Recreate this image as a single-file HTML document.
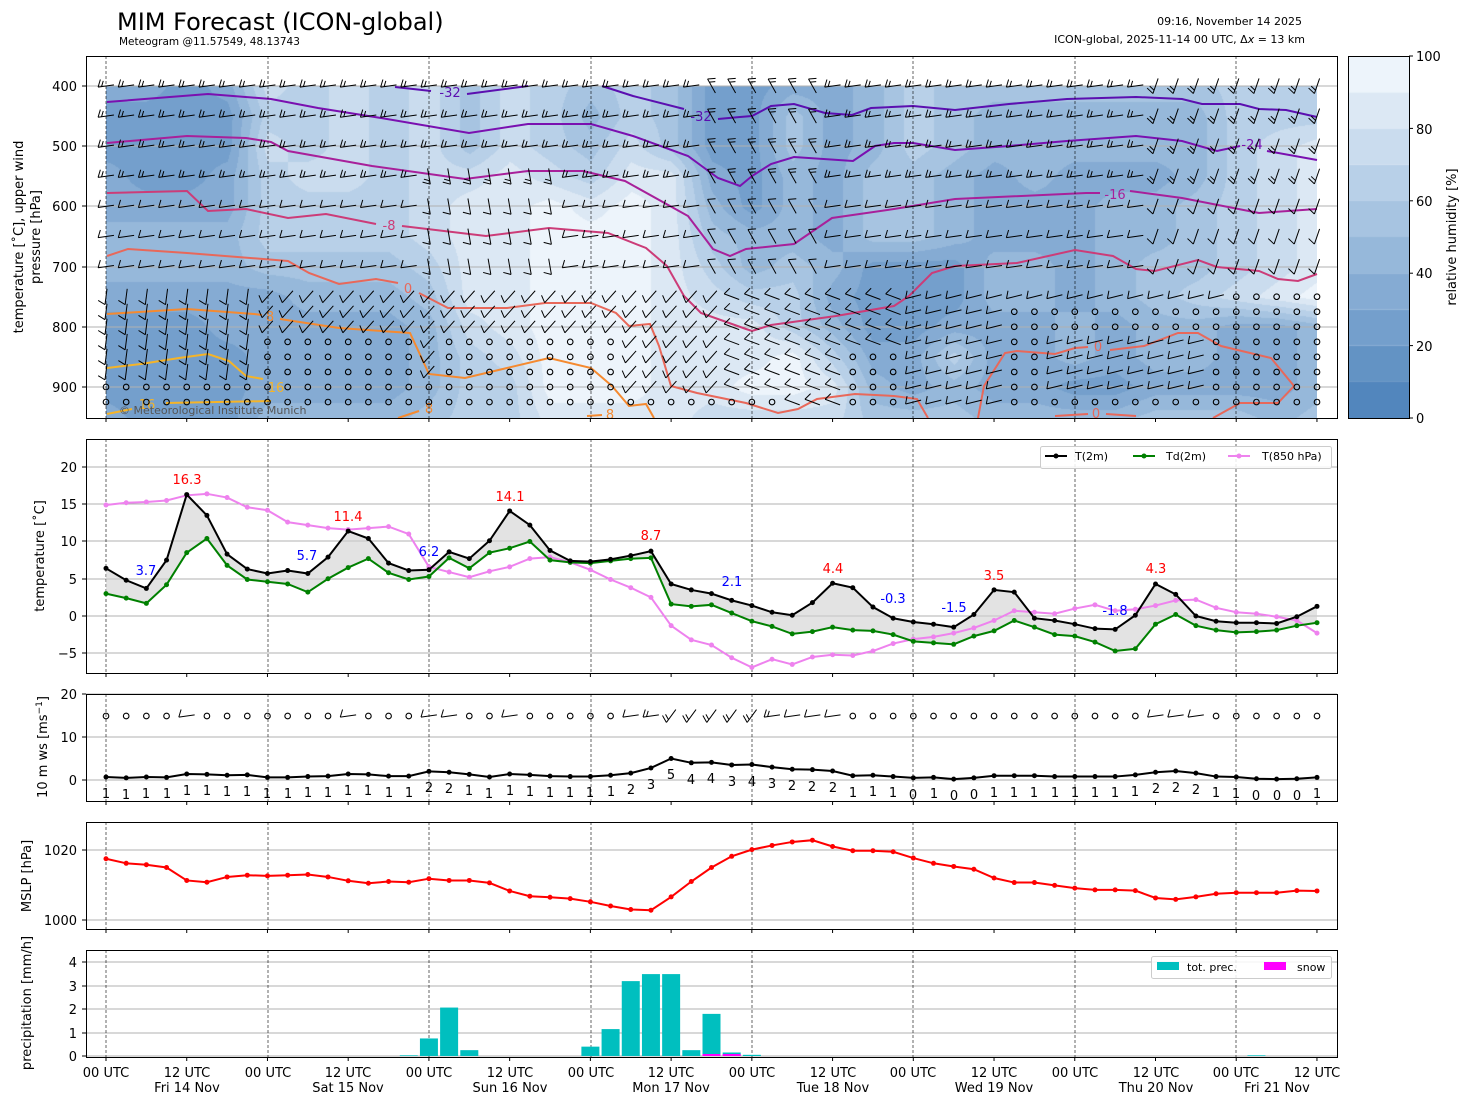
<!DOCTYPE html>
<html><head><meta charset="utf-8"><style>
body{margin:0;background:#fff;width:1469px;height:1105px;position:relative;overflow:hidden;font-family:"Liberation Sans","DejaVu Sans",sans-serif}
#fld{position:absolute;left:106px;top:86px}
#cb{position:absolute;left:1348px;top:56px}
svg{position:absolute;left:0;top:0}
text{font-family:"DejaVu Sans","Liberation Sans",sans-serif}
</style></head><body>
<canvas id="fld" width="1211" height="332"></canvas>
<canvas id="cb" width="61" height="362"></canvas>
<svg width="1469" height="1105" viewBox="0 0 1469 1105">
<g id="pre"></g>
<g fill="none" stroke-width="2">
<polyline stroke="#5b0fb0" points="395,87 431,91"/>
<polyline stroke="#5b0fb0" points="467,94 528,86"/>
<polyline stroke="#5b0fb0" points="602,86 633,96 684,109"/>
<polyline stroke="#5b0fb0" points="718,119 740,117 752,116 771,106 794,104 825,113 852,115 871,108 913,106 955,110 1009,104 1067,99 1136,97 1182,99 1202,104 1240,104 1259,109 1286,110 1317,117"/>
<polyline stroke="#7a10b0" points="107,102 208,94 271,99 318,108 381,118 469,133 528,124 591,124 633,136 688,156 718,178 740,186 752,176 771,164 794,157 853,161 875,146 894,143 913,143 955,150 1009,146 1067,141 1136,136 1182,141 1217,151 1240,146"/>
<polyline stroke="#7a10b0" points="1267,151 1317,160"/>
<polyline stroke="#a8209a" points="107,143 187,136 246,138 271,142 288,151 372,166 465,179 528,171 583,171 625,181 688,216 713,249 730,256 746,249 794,244 832,218 894,209 955,199 1086,193 1100,193"/>
<polyline stroke="#a8209a" points="1130,191 1182,198 1259,213 1317,209"/>
<polyline stroke="#cc3c78" points="107,193 187,191 208,211 246,209 288,218 326,214 376,224"/>
<polyline stroke="#cc3c78" points="402,226 486,236 549,228 608,233 646,248 667,266 684,296 701,313 746,329 752,331 771,325 836,316 894,306 909,296 932,273 955,266 1017,263 1075,250 1113,256 1136,269 1155,271 1198,260 1217,267 1259,271 1278,279 1298,281 1317,274"/>
<polyline stroke="#e8685a" points="107,256 128,249 187,253 288,261 309,273 339,284 376,279 398,283"/>
<polyline stroke="#e8685a" points="419,293 448,308 507,308 545,303 591,303 616,313 629,326 650,324 659,346 671,386 697,393 746,403 778,413 798,409 817,399 855,394 894,396 917,399 928,418"/>
<polyline stroke="#e8685a" points="978,418 984,386 1005,353 1017,351 1055,354 1075,348 1088,347"/>
<polyline stroke="#e8685a" points="1110,350 1144,346 1178,333 1198,333 1221,346 1271,358 1294,386 1278,403 1240,403 1213,418"/>
<polyline stroke="#e8685a" points="1055,416 1088,414"/>
<polyline stroke="#e8685a" points="1106,414 1136,416"/>
<polyline stroke="#f58a30" points="107,314 187,309 254,314 262,315"/>
<polyline stroke="#f58a30" points="280,319 339,328 410,333 429,374 465,378 507,368 549,358 591,368 612,386 629,406 646,404 654,418"/>
<polyline stroke="#f58a30" points="398,418 419,411"/>
<polyline stroke="#f58a30" points="587,416 602,415"/>
<polyline stroke="#f5b428" points="107,368 141,364 179,358 208,354 229,361 246,376 263,379"/>
<polyline stroke="#f5b428" points="107,414 132,409"/>
<polyline stroke="#f5b428" points="166,403 271,401"/>
</g>
<g font-size="13">
<text x="450" y="97" fill="#5b0fb0" text-anchor="middle">-32</text>
<text x="701" y="121" fill="#5b0fb0" text-anchor="middle">-32</text>
<text x="1252" y="149" fill="#7a10b0" text-anchor="middle">-24</text>
<text x="1115" y="199" fill="#a8209a" text-anchor="middle">-16</text>
<text x="389" y="230" fill="#cc3c78" text-anchor="middle">-8</text>
<text x="408" y="293" fill="#e8685a" text-anchor="middle">0</text>
<text x="1098" y="351" fill="#e8685a" text-anchor="middle">0</text>
<text x="1096" y="418" fill="#e8685a" text-anchor="middle">0</text>
<text x="270" y="321" fill="#f58a30" text-anchor="middle">8</text>
<text x="429" y="413" fill="#f58a30" text-anchor="middle">8</text>
<text x="610" y="419" fill="#f58a30" text-anchor="middle">8</text>
<text x="276" y="392" fill="#f5b428" text-anchor="middle">16</text>
<text x="147" y="409" fill="#f5b428" text-anchor="middle">16</text>
</g>
<g id="dyn"></g>
<g fill="none" stroke="#000" stroke-width="1">
<rect x="86.5" y="56.5" width="1251" height="362"/>
<rect x="1348.5" y="56.5" width="61" height="362"/>
<rect x="86.5" y="439.5" width="1251" height="234"/>
<rect x="86.5" y="694.5" width="1251" height="107"/>
<rect x="86.5" y="822.5" width="1251" height="107"/>
<rect x="86.5" y="950.5" width="1251" height="107"/>
</g>
<text x="119" y="414" font-size="11" fill="#555">© Meteorological Institute Munich</text>
<text x="117" y="30" font-size="24">MIM Forecast (ICON-global)</text>
<text x="119" y="45" font-size="10.5">Meteogram @11.57549, 48.13743</text>
<text x="1302" y="25" font-size="11" text-anchor="end">09:16, November 14 2025</text>
<text x="1305" y="43" font-size="11" text-anchor="end">ICON-global, 2025-11-14 00 UTC, Δ<tspan font-style="italic">x</tspan> = 13 km</text>
<g font-size="13">
<text transform="translate(23,237) rotate(-90)" text-anchor="middle">temperature [˚C], upper wind</text>
<text transform="translate(40,237) rotate(-90)" text-anchor="middle">pressure [hPa]</text>
<text transform="translate(44,556) rotate(-90)" text-anchor="middle">temperature [˚C]</text>
<text transform="translate(47,747) rotate(-90)" text-anchor="middle">10 m ws [ms<tspan font-size="9" dy="-5">−1</tspan><tspan dy="5">]</tspan></text>
<text transform="translate(31,876) rotate(-90)" text-anchor="middle">MSLP [hPa]</text>
<text transform="translate(31,1003) rotate(-90)" text-anchor="middle">precipitation [mm/h]</text>
<text transform="translate(1456,237) rotate(-90)" text-anchor="middle">relative humidity [%]</text>
</g>
<g font-size="13" text-anchor="end">
<text x="77" y="91">400</text><text x="77" y="151">500</text><text x="77" y="211">600</text><text x="77" y="272">700</text><text x="77" y="332">800</text><text x="77" y="392">900</text>
<text x="77" y="472">20</text><text x="77" y="509">15</text><text x="77" y="546">10</text><text x="77" y="584">5</text><text x="77" y="621">0</text><text x="77" y="658">−5</text>
<text x="77" y="699">20</text><text x="77" y="742">10</text><text x="77" y="785">0</text>
<text x="77" y="855">1020</text><text x="77" y="925">1000</text>
<text x="77" y="967">4</text><text x="77" y="991">3</text><text x="77" y="1014">2</text><text x="77" y="1038">1</text><text x="77" y="1061">0</text>
</g>
<g font-size="13">
<text x="1416" y="423">0</text><text x="1416" y="351">20</text><text x="1416" y="278">40</text><text x="1416" y="206">60</text><text x="1416" y="134">80</text><text x="1416" y="61">100</text>
</g>
<g font-size="13" text-anchor="middle">
<text x="106" y="1077">00 UTC</text><text x="187" y="1077">12 UTC</text><text x="187" y="1092">Fri 14 Nov</text>
<text x="268" y="1077">00 UTC</text><text x="348" y="1077">12 UTC</text><text x="348" y="1092">Sat 15 Nov</text>
<text x="429" y="1077">00 UTC</text><text x="510" y="1077">12 UTC</text><text x="510" y="1092">Sun 16 Nov</text>
<text x="591" y="1077">00 UTC</text><text x="671" y="1077">12 UTC</text><text x="671" y="1092">Mon 17 Nov</text>
<text x="752" y="1077">00 UTC</text><text x="833" y="1077">12 UTC</text><text x="833" y="1092">Tue 18 Nov</text>
<text x="913" y="1077">00 UTC</text><text x="994" y="1077">12 UTC</text><text x="994" y="1092">Wed 19 Nov</text>
<text x="1075" y="1077">00 UTC</text><text x="1156" y="1077">12 UTC</text><text x="1156" y="1092">Thu 20 Nov</text>
<text x="1236" y="1077">00 UTC</text><text x="1317" y="1077">12 UTC</text><text x="1277" y="1092">Fri 21 Nov</text>
</g>
<g font-size="13" text-anchor="middle">
<text x="187" y="484" fill="red">16.3</text><text x="348" y="521" fill="red">11.4</text><text x="510" y="501" fill="red">14.1</text><text x="651" y="540" fill="red">8.7</text><text x="833" y="573" fill="red">4.4</text><text x="994" y="580" fill="red">3.5</text><text x="1156" y="573" fill="red">4.3</text>
<text x="146" y="575" fill="blue">3.7</text><text x="307" y="560" fill="blue">5.7</text><text x="429" y="556" fill="blue">6.2</text><text x="732" y="586" fill="blue">2.1</text><text x="893" y="603" fill="blue">-0.3</text><text x="954" y="612" fill="blue">-1.5</text><text x="1115" y="615" fill="blue">-1.8</text>
</g>
<rect x="1040.5" y="446.5" width="291" height="22" rx="2" fill="#fff" fill-opacity="0.85" stroke="#ccc"/>
<g font-size="11">
<line x1="1045" y1="456" x2="1067" y2="456" stroke="#000" stroke-width="2"/><circle cx="1056" cy="456" r="2.5"/>
<text x="1075" y="460">T(2m)</text>
<line x1="1133" y1="456" x2="1155" y2="456" stroke="green" stroke-width="2"/><circle cx="1144" cy="456" r="2.5" fill="green"/>
<text x="1166" y="460">Td(2m)</text>
<line x1="1228" y1="456" x2="1250" y2="456" stroke="violet" stroke-width="2"/><circle cx="1239" cy="456" r="2.5" fill="violet"/>
<text x="1262" y="460">T(850 hPa)</text>
</g>
<rect x="1151.5" y="956.5" width="180" height="22" rx="2" fill="#fff" fill-opacity="0.85" stroke="#ccc"/>
<g font-size="11">
<rect x="1157" y="962" width="22" height="8" fill="#00bfbf"/><text x="1187" y="971">tot. prec.</text>
<rect x="1264" y="962" width="22" height="8" fill="#ff00ff"/><text x="1297" y="971">snow</text>
</g>
<g font-size="13" text-anchor="middle">
<text x="106" y="798">1</text><text x="126" y="799">1</text><text x="146" y="798">1</text><text x="167" y="798">1</text><text x="187" y="795">1</text><text x="207" y="795">1</text><text x="227" y="796">1</text><text x="247" y="796">1</text><text x="267" y="798">1</text><text x="288" y="798">1</text>
<text x="308" y="797">1</text><text x="328" y="797">1</text><text x="348" y="795">1</text><text x="368" y="795">1</text><text x="389" y="797">1</text><text x="409" y="797">1</text><text x="429" y="792">2</text><text x="449" y="793">2</text><text x="469" y="795">1</text><text x="489" y="798">1</text>
<text x="510" y="795">1</text><text x="530" y="796">1</text><text x="550" y="797">1</text><text x="570" y="797">1</text><text x="590" y="797">1</text><text x="611" y="796">1</text><text x="631" y="794">2</text><text x="651" y="789">3</text><text x="671" y="779">5</text><text x="691" y="784">4</text>
<text x="711" y="783">4</text><text x="732" y="786">3</text><text x="752" y="786">4</text><text x="772" y="788">3</text><text x="792" y="790">2</text><text x="812" y="791">2</text><text x="833" y="792">2</text><text x="853" y="797">1</text><text x="873" y="796">1</text><text x="893" y="797">1</text>
<text x="913" y="799">0</text><text x="934" y="798">1</text><text x="954" y="800">0</text><text x="974" y="799">0</text><text x="994" y="797">1</text><text x="1014" y="797">1</text><text x="1034" y="797">1</text><text x="1055" y="797">1</text><text x="1075" y="797">1</text><text x="1095" y="797">1</text>
<text x="1115" y="797">1</text><text x="1135" y="796">1</text><text x="1156" y="793">2</text><text x="1176" y="792">2</text><text x="1196" y="794">2</text><text x="1216" y="797">1</text><text x="1236" y="798">1</text><text x="1256" y="800">0</text><text x="1277" y="800">0</text><text x="1297" y="800">0</text><text x="1317" y="798">1</text>
</g>
</svg>
<script>
const NS='http://www.w3.org/2000/svg';
function mk(par,t,a){const e=document.createElementNS(NS,t);for(const k in a)e.setAttribute(k,a[k]);document.getElementById(par).appendChild(e);return e;}
const X=i=>106+i*20.1833;
const yT=t=>616-t*7.45, yW=v=>780-v*4.3, yP=p=>920-(p-1000)*3.5, yR=r=>1056-r*23.4;
function cmap(v){const s=[[0,[74,128,185]],[0.5,[158,190,222]],[1,[246,250,254]]];
 for(let k=0;k<s.length-1;k++){if(v<=s[k+1][0]){const f=(v-s[k][0])/(s[k+1][0]-s[k][0]);return s[k][1].map((c,j)=>Math.round(c+(s[k+1][1][j]-c)*f));}}return s[2][1];}
function qc(rh){let l=Math.floor(rh/10);if(l>9)l=9;if(l<0)l=0;return cmap((l+0.5)/10);}
const cols=["322334432223","322234432222","222234432222","322334433222","767666533334","666766543334","777766543334","666666543334","777777654445","555788887666","777888888766","666799999998","545689999998","667899999998","555888888888","222345678887","222224468897","355444566997","333333434687","444555222345","666555222335","555444223645","544333443334","544433443334","544333334424","544344443324","544344554435","544455564435","666666673335","667777783334","668888894445"];
const G=cols.map(s=>s.split('').map(d=>+d*10+5));
(function(){const c=document.getElementById('fld'),ctx=c.getContext('2d'),W=c.width,H=c.height,img=ctx.createImageData(W,H);
for(let y=0;y<H;y++){let p=400+y/0.602,w=(p-400)/50;if(w>11)w=11;const r0=Math.floor(w),r1=Math.min(r0+1,11),fw=w-r0;
 for(let x=0;x<W;x++){let u=x/40.367;if(u>30)u=30;const c0=Math.floor(u),c1=Math.min(c0+1,30),fu=u-c0;
  const v=(G[c0][r0]*(1-fu)+G[c1][r0]*fu)*(1-fw)+(G[c0][r1]*(1-fu)+G[c1][r1]*fu)*fw;
  const col=qc(v),o=(y*W+x)*4;img.data[o]=col[0];img.data[o+1]=col[1];img.data[o+2]=col[2];img.data[o+3]=255;}}
ctx.putImageData(img,0,0);
const cb=document.getElementById('cb'),cx=cb.getContext('2d');
for(let l=0;l<10;l++){const col=cmap((l+0.5)/10);cx.fillStyle='rgb('+col+')';cx.fillRect(0,362-(l+1)*36.2,61,36.3);}
})();
[86,146,206,267,327,387].forEach(y=>mk('pre','line',{x1:86,x2:1337,y1:y,y2:y,stroke:'#b0b0b0','stroke-width':1}));
[467,504,541,579,616,653,694,737,780,850,920,962,986,1009,1033,1056].forEach(y=>mk('pre','line',{x1:86,x2:1337,y1:y,y2:y,stroke:'#b0b0b0','stroke-width':1}));
const days=[106,268,429,591,752,913,1075,1236];
[[56,418],[439,673],[694,801],[822,929],[950,1057]].forEach(([a,b])=>days.forEach(x=>mk('dyn','line',{x1:x,x2:x,y1:a,y2:b,stroke:'#000','stroke-width':0.6,'stroke-dasharray':'3,2'})));
[418,673,801,929,1057].forEach(b=>{for(let i=0;i<=15;i++){const x=106+i*80.73;mk('dyn','line',{x1:x,x2:x,y1:b,y2:b+4,stroke:'#000'});}});
[86,146,206,267,327,387,467,504,541,579,616,653,694,737,780,850,920,962,986,1009,1033,1056].forEach(y=>mk('dyn','line',{x1:82,x2:86,y1:y,y2:y,stroke:'#000'}));
[56,128.4,200.8,273.2,345.6,418].forEach(y=>mk('dyn','line',{x1:1409,x2:1413,y1:y,y2:y,stroke:'#000'}));
function barb(x,y,a,n){const L=16,dx=Math.cos(a),dy=Math.sin(a),sx0=x-dx*L/2,sy0=y-dy*L/2,ex=x+dx*L/2,ey=y+dy*L/2;
 mk('dyn','line',{x1:sx0,y1:sy0,x2:ex,y2:ey,stroke:'#000','stroke-width':1});
 const b=a+2.0;for(let k=0;k<n;k++){const sx=ex-dx*k*3.5,sy=ey-dy*k*3.5,l=k==0?8:6;mk('dyn','line',{x1:sx,y1:sy,x2:sx+Math.cos(b)*l,y2:sy+Math.sin(b)*l,stroke:'#000','stroke-width':1});}}
function circ(x,y){mk('dyn','circle',{cx:x,cy:y,r:2.8,fill:'none',stroke:'#000','stroke-width':1.1});}
const rowsP=[400,450,500,550,600,650,700,750,775,800,825,850,875,900,925];
for(let i=0;i<=60;i++){const x=X(i);for(const p of rowsP){const y=86+(p-400)*0.602;
 let calm=p>=750&&((x>=250&&x<=420&&p>=825)||(p>=900&&x<430)||(p>=925&&x<780)||(x>=440&&x<=620&&p>=825&&p<=900)||(x>=840&&x<=910&&p>=850)||(x>=1000&&p>=775&&!(x>1040&&x<1200&&p>=825&&p<=900))||(x>=1220&&p>=750));
 if(calm){circ(x,y);continue;}
 let a, n=p<=550?2:1;
 if(p<=700){ if(x>700&&x<830) a=4.2; else if(x>1150) a=1.9; else if(x>420&&x<560&&p>=550) a=1.4; else a=3.0; }
 else { if(x<260) a=1.7; else if(x<720) a=2.3; else if(x<900) a=3.5; else a=2.9;}
 barb(x,y,a,n);}}
const T=[6.4,4.8,3.7,7.5,16.3,13.5,8.3,6.3,5.7,6.1,5.7,7.9,11.4,10.4,7.1,6.1,6.2,8.6,7.7,10.1,14.1,12.2,8.8,7.4,7.3,7.6,8.1,8.7,4.3,3.5,3.0,2.1,1.4,0.5,0.1,1.8,4.4,3.8,1.2,-0.3,-0.8,-1.1,-1.5,0.2,3.5,3.2,-0.3,-0.6,-1.1,-1.7,-1.8,0.1,4.3,2.9,0.0,-0.7,-0.9,-0.9,-1.0,-0.1,1.3];
const Td=[3.0,2.4,1.7,4.2,8.5,10.4,6.8,4.9,4.6,4.3,3.2,5.0,6.5,7.7,5.8,4.9,5.3,7.8,6.4,8.5,9.1,10.0,7.5,7.2,7.1,7.4,7.7,7.8,1.6,1.3,1.5,0.4,-0.7,-1.4,-2.4,-2.1,-1.5,-1.9,-2.0,-2.5,-3.4,-3.6,-3.8,-2.7,-2.0,-0.6,-1.5,-2.5,-2.7,-3.5,-4.7,-4.4,-1.1,0.2,-1.3,-1.9,-2.2,-2.1,-1.9,-1.3,-0.9];
const T8=[14.9,15.2,15.3,15.5,16.2,16.4,15.9,14.6,14.2,12.6,12.2,11.8,11.6,11.8,12.0,11.0,6.6,5.9,5.2,6.0,6.6,7.7,7.9,7.2,6.2,4.9,3.8,2.5,-1.3,-3.2,-3.9,-5.6,-6.9,-5.8,-6.5,-5.5,-5.2,-5.3,-4.7,-3.7,-3.1,-2.8,-2.3,-1.6,-0.6,0.7,0.5,0.3,1.0,1.5,0.7,0.9,1.4,2.1,2.2,1.1,0.5,0.3,-0.1,-0.6,-2.3];
const WS=[0.7,0.5,0.7,0.6,1.4,1.3,1.1,1.2,0.6,0.6,0.8,0.9,1.4,1.3,0.9,0.9,2.0,1.8,1.3,0.7,1.4,1.2,0.9,0.8,0.8,1.1,1.6,2.8,5.0,4.0,4.1,3.5,3.6,3.0,2.5,2.4,2.1,1.0,1.1,0.8,0.5,0.6,0.2,0.5,1.0,1.0,1.0,0.8,0.8,0.8,0.8,1.2,1.8,2.1,1.6,0.8,0.7,0.3,0.2,0.3,0.6];
const PM=[1017.5,1016.2,1015.8,1015.0,1011.3,1010.8,1012.3,1012.8,1012.6,1012.8,1013.0,1012.3,1011.2,1010.5,1011.0,1010.8,1011.8,1011.3,1011.3,1010.6,1008.3,1006.8,1006.5,1006.1,1005.2,1004.0,1003.0,1002.8,1006.6,1011.0,1015.0,1018.2,1020.1,1021.3,1022.3,1022.8,1021.0,1019.8,1019.8,1019.5,1017.7,1016.2,1015.3,1014.5,1012.0,1010.7,1010.7,1009.9,1009.1,1008.6,1008.6,1008.4,1006.3,1005.9,1006.6,1007.5,1007.8,1007.8,1007.8,1008.4,1008.3];
let poly=T.map((v,i)=>X(i)+','+yT(v)).concat(Td.map((v,i)=>X(i)+','+yT(v)).reverse()).join(' ');
mk('dyn','polygon',{points:poly,fill:'#d0d0d0','fill-opacity':0.6});
function series(vals,fy,color){mk('dyn','polyline',{points:vals.map((v,i)=>X(i)+','+fy(v)).join(' '),fill:'none',stroke:color,'stroke-width':2});
 vals.forEach((v,i)=>mk('dyn','circle',{cx:X(i),cy:fy(v),r:2.5,fill:color}));}
series(T8,yT,'violet');series(Td,yT,'green');series(T,yT,'#000');
series(WS,yW,'#000');series(PM,yP,'red');
WS.forEach((v,i)=>{const x=X(i);if(v>=1.4){const a=v>3?2.2:3.0;barb(x,716,a,v>2.5?2:1);}else circ(x,716);});
const PR={15:0.03,16:0.75,17:2.07,18:0.25,24:0.4,25:1.15,26:3.2,27:3.5,28:3.5,29:0.25,30:1.8,31:0.15,32:0.05,57:0.03};
for(const k in PR){const x=X(+k);mk('dyn','rect',{x:x-9,y:yR(PR[k]),width:18,height:1056-yR(PR[k]),fill:'#00bfbf'});}
[30,31].forEach(k=>{const x=X(k);mk('dyn','rect',{x:x-9,y:1054,width:18,height:2,fill:'#ff00ff'});});
</script>
</body></html>
